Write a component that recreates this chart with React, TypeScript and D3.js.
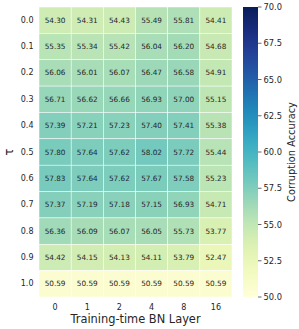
import React from 'react'
import * as d3 from 'd3'

const layers = ['0', '1', '2', '4', '8', '16']
const taus = ['0.0', '0.1', '0.2', '0.3', '0.4', '0.5', '0.6', '0.7', '0.8', '0.9', '1.0']
const values: number[][] = [
	[54.3, 54.31, 54.43, 55.49, 55.81, 54.41],
	[55.35, 55.34, 55.42, 56.04, 56.2, 54.68],
	[56.06, 56.01, 56.07, 56.47, 56.58, 54.91],
	[56.71, 56.62, 56.66, 56.93, 57.0, 55.15],
	[57.39, 57.21, 57.23, 57.4, 57.41, 55.38],
	[57.8, 57.64, 57.62, 58.02, 57.72, 55.44],
	[57.83, 57.64, 57.62, 57.67, 57.58, 55.23],
	[57.37, 57.19, 57.18, 57.15, 56.93, 54.71],
	[56.36, 56.09, 56.07, 56.05, 55.73, 53.77],
	[54.42, 54.15, 54.13, 54.11, 53.79, 52.47],
	[50.59, 50.59, 50.59, 50.59, 50.59, 50.59]
]
const cbTicks = [50, 52.5, 55, 57.5, 60, 62.5, 65, 67.5, 70]

const W = 299
const H = 329
const plot = { left: 39, right: 232, top: 7, bottom: 297 }
const cb = { left: 243, right: 258 }
const font = 'DejaVu Sans, sans-serif'

const App = () => {
	const x = d3.scaleBand().domain(layers).range([plot.left, plot.right])
	const y = d3.scaleBand().domain(taus).range([plot.top, plot.bottom])
	const color = d3.scaleSequential(d3.interpolateYlGnBu).domain([50, 70])
	const cbY = d3.scaleLinear().domain([50, 70]).range([plot.bottom, plot.top])
	const stops = d3.range(0, 1.0001, 0.05)
	const midY = (plot.top + plot.bottom) / 2

	return (
		<svg
			width={W}
			height={H}
			style={{ position: 'absolute', left: 0, top: 0, background: '#fff' }}
			fontFamily={font}
		>
			<g>
				{values.map((row, i) =>
					row.map((v, j) => (
						<g key={`${i}-${j}`}>
							<rect
								x={x(layers[j])}
								y={y(taus[i])}
								width={x.bandwidth()}
								height={y.bandwidth()}
								fill={color(v)}
								stroke="#fff"
								strokeWidth={0.5}
							/>
							<text
								x={(x(layers[j]) as number) + x.bandwidth() / 2}
								y={(y(taus[i]) as number) + y.bandwidth() / 2}
								textAnchor="middle"
								dominantBaseline="central"
								fontSize={7.3}
								fill="#262626"
							>
								{v.toFixed(2)}
							</text>
						</g>
					))
				)}
			</g>

			{/* y ticks */}
			<g>
				{taus.map(t => (
					<text
						key={t}
						x={33.5}
						y={(y(t) as number) + y.bandwidth() / 2}
						textAnchor="end"
						dominantBaseline="central"
						fontSize={8}
						fill="#262626"
					>
						{t}
					</text>
				))}
				<text
					x={9}
					y={midY}
					transform={`rotate(-90, 9, ${midY})`}
					textAnchor="middle"
					dominantBaseline="central"
					fontSize={11.4}
					fill="#262626"
				>
					τ
				</text>
			</g>

			{/* x ticks */}
			<g>
				{layers.map(l => (
					<text
						key={l}
						x={(x(l) as number) + x.bandwidth() / 2}
						y={307}
						textAnchor="middle"
						dominantBaseline="central"
						fontSize={8}
						fill="#262626"
					>
						{l}
					</text>
				))}
				<text
					x={(plot.left + plot.right) / 2}
					y={318.5}
					textAnchor="middle"
					dominantBaseline="central"
					fontSize={11.4}
					fill="#262626"
				>
					Training-time BN Layer
				</text>
			</g>

			{/* colorbar */}
			<defs>
				<linearGradient id="cbgrad" x1="0" y1="1" x2="0" y2="0">
					{stops.map(s => (
						<stop key={s} offset={s} stopColor={color(50 + s * 20)} />
					))}
				</linearGradient>
			</defs>
			<rect
				x={cb.left}
				y={plot.top}
				width={cb.right - cb.left}
				height={plot.bottom - plot.top}
				fill="url(#cbgrad)"
			/>
			<g>
				{cbTicks.map(t => (
					<g key={t}>
						<line x1={cb.right} x2={cb.right + 3.5} y1={cbY(t)} y2={cbY(t)} stroke="#262626" strokeWidth={0.7} />
						<text
							x={cb.right + 5.5}
							y={cbY(t)}
							dominantBaseline="central"
							fontSize={8.3}
							fill="#262626"
						>
							{t.toFixed(1)}
						</text>
					</g>
				))}
				<text
					x={291}
					y={midY}
					transform={`rotate(-90, 291, ${midY})`}
					textAnchor="middle"
					dominantBaseline="central"
					fontSize={9.8}
					fill="#262626"
				>
					Corruption Accuracy
				</text>
			</g>
		</svg>
	)
}

export default App
